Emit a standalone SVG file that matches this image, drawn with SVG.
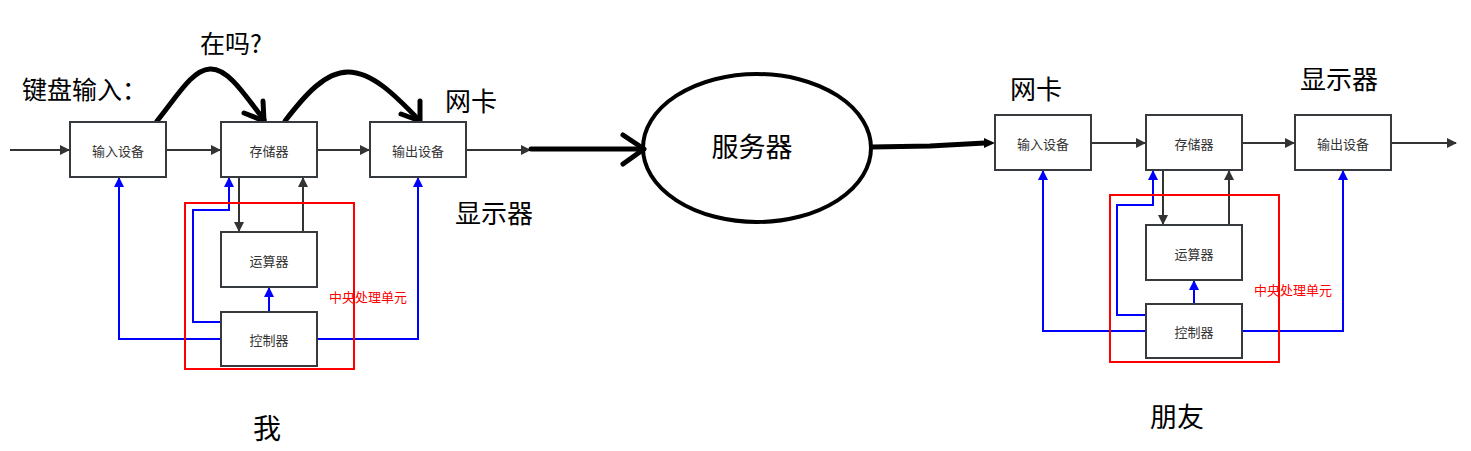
<svg xmlns="http://www.w3.org/2000/svg" width="1471" height="451" viewBox="0 0 1471 451">
<defs>
<style>
.box{fill:#fff;stroke:#36393d;stroke-width:2}
.bt{font-family:"Noto Sans CJK SC",sans-serif;font-size:13px;fill:#333;text-anchor:middle;dominant-baseline:central}
.big{font-family:"Noto Sans CJK SC",sans-serif;font-size:26px;fill:#000}
.cpu{fill:none;stroke:#ff0000;stroke-width:2}
.cput{font-family:"Noto Sans CJK SC",sans-serif;font-size:13px;fill:#ff0000}
.gl{fill:none;stroke:#333;stroke-width:2}
.bl{fill:none;stroke:#0000ff;stroke-width:2}
.thick{fill:none;stroke:#000;stroke-width:5;stroke-linecap:round;stroke-linejoin:round}
</style>
<marker id="ag" markerWidth="10" markerHeight="10" refX="9" refY="5" orient="auto" markerUnits="userSpaceOnUse"><path d="M0,0 L10,5 L0,10 Z" fill="#333"/></marker>
<marker id="ab" markerWidth="10" markerHeight="10" refX="9" refY="5" orient="auto" markerUnits="userSpaceOnUse"><path d="M0,0 L10,5 L0,10 Z" fill="#0000ff"/></marker>
</defs>
<rect width="1471" height="451" fill="#fff"/>

<g id="connectors">
<path class="gl" d="M10,150 L69,150" marker-end="url(#ag)"/>
<path class="gl" d="M166,150 L220,150" marker-end="url(#ag)"/>
<path class="gl" d="M317,150 L369,150" marker-end="url(#ag)"/>
<path class="gl" d="M466,150 L530,150" marker-end="url(#ag)"/>
<path class="gl" d="M239,177 L239,231" marker-end="url(#ag)"/>
<path class="gl" d="M303,232 L303,178" marker-end="url(#ag)"/>
<path class="bl" d="M269,312 L269,288" marker-end="url(#ab)"/>
<path class="bl" d="M221,322 L193,322 L193,210 L229,210 L229,178" marker-end="url(#ab)"/>
<path class="bl" d="M221,339 L119,339 L119,178" marker-end="url(#ab)"/>
<path class="bl" d="M317,339 L418,339 L418,178" marker-end="url(#ab)"/>
<path class="thick" d="M157,121 C178,95 192,70 210,69 C228,68 245,95 264,120"/>
<path class="thick" d="M263,101 L264,121 L244,113"/>
<path class="thick" d="M285,121 C305,95 325,72 348,72 C372,72 395,95 419,120"/>
<path class="thick" d="M420,101 L420,121 L401,114"/>
<path class="thick" d="M531,149 L643,149"/>
<path class="thick" d="M623,135 L644,149 L623,164"/>
<path class="thick" d="M872,147 L930,146 L985,143"/>
<path d="M984,138 L995,143 L984,148 Z" fill="#000"/>
<path class="gl" d="M1091,143 L1145,143" marker-end="url(#ag)"/>
<path class="gl" d="M1242,143 L1294,143" marker-end="url(#ag)"/>
<path class="gl" d="M1391,143 L1456,143" marker-end="url(#ag)"/>
<path class="gl" d="M1163,170 L1163,224" marker-end="url(#ag)"/>
<path class="gl" d="M1229,225 L1229,171" marker-end="url(#ag)"/>
<path class="bl" d="M1194,304 L1194,281" marker-end="url(#ab)"/>
<path class="bl" d="M1146,315 L1117,315 L1117,205 L1153,205 L1153,171" marker-end="url(#ab)"/>
<path class="bl" d="M1146,331 L1043,331 L1043,171" marker-end="url(#ab)"/>
<path class="bl" d="M1242,331 L1343,331 L1343,171" marker-end="url(#ab)"/>
</g>

<g id="cpu-left"><rect class="cpu" x="185" y="203" width="169" height="166"/><text class="cput" x="329" y="302">中央处理单元</text></g>
<g id="in-left"><rect class="box" x="70" y="122" width="96" height="55"/><text class="bt" x="118" y="150">输入设备</text></g>
<g id="mem-left"><rect class="box" x="221" y="122" width="96" height="55"/><text class="bt" x="269" y="150">存储器</text></g>
<g id="out-left"><rect class="box" x="370" y="122" width="96" height="55"/><text class="bt" x="418" y="150">输出设备</text></g>
<g id="alu-left"><rect class="box" x="221" y="232" width="96" height="55"/><text class="bt" x="269" y="260">运算器</text></g>
<g id="ctl-left"><rect class="box" x="221" y="312" width="96" height="54"/><text class="bt" x="269" y="339">控制器</text></g>

<g id="server"><ellipse cx="757" cy="148" rx="114" ry="74" fill="none" stroke="#000" stroke-width="4"/><text class="big" x="752" y="157" text-anchor="middle" style="font-size:27px">服务器</text></g>

<g id="cpu-right"><rect class="cpu" x="1110" y="195" width="169" height="167"/><text class="cput" x="1254" y="295">中央处理单元</text></g>
<g id="in-right"><rect class="box" x="995" y="115" width="96" height="55"/><text class="bt" x="1043" y="143">输入设备</text></g>
<g id="mem-right"><rect class="box" x="1146" y="115" width="96" height="55"/><text class="bt" x="1194" y="143">存储器</text></g>
<g id="out-right"><rect class="box" x="1295" y="115" width="96" height="55"/><text class="bt" x="1343" y="143">输出设备</text></g>
<g id="alu-right"><rect class="box" x="1146" y="225" width="96" height="55"/><text class="bt" x="1194" y="253">运算器</text></g>
<g id="ctl-right"><rect class="box" x="1146" y="304" width="96" height="54"/><text class="bt" x="1194" y="331">控制器</text></g>

<g id="labels">
<text class="big" x="200" y="53" style="font-size:25px">在吗?</text>
<text class="big" x="22" y="99" style="font-size:25px">键盘输入：</text>
<text class="big" x="445" y="111">网卡</text>
<text class="big" x="455" y="223">显示器</text>
<text class="big" x="253" y="439" style="font-size:28px">我</text>
<text class="big" x="1010" y="99">网卡</text>
<text class="big" x="1300" y="89">显示器</text>
<text class="big" x="1150" y="427" style="font-size:27px">朋友</text>
</g>
</svg>
